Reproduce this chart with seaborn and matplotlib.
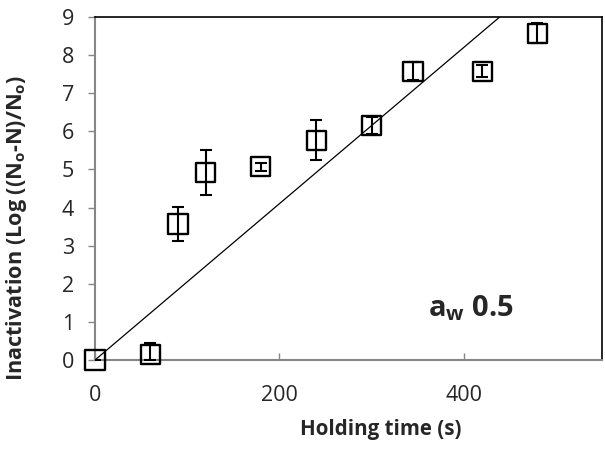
import numpy as np
import pandas as pd
import matplotlib
matplotlib.use("Agg")
import matplotlib.pyplot as plt
import seaborn as sns

# Data
time_s = [0, 60, 90, 120, 180, 240, 300, 345, 420, 480]
inactivation = [0.0, 0.15, 3.57, 4.92, 5.07, 5.77, 6.15, 7.58, 7.58, 8.57]
err_low = [0.0, 0.15, 0.45, 0.6, 0.1, 0.53, 0.22, 0.24, 0.16, 0.26]
err_high = [0.0, 0.30, 0.45, 0.6, 0.1, 0.53, 0.22, 0.24, 0.16, 0.26]
trend_x = [0, 439]
trend_y = [0, 9]
x_ticks = [0, 200, 400]
y_ticks = [0, 1, 2, 3, 4, 5, 6, 7, 8, 9]

sns.set_style("white")
plt.rcParams['font.family'] = ['Open Sans', 'DejaVu Sans']
plt.rcParams['mathtext.fontset'] = 'custom'
plt.rcParams['mathtext.default'] = 'regular'

df = pd.DataFrame({"time": time_s, "inact": inactivation})
tdf = pd.DataFrame({"x": trend_x, "y": trend_y})

fig = plt.figure(figsize=(6.05, 4.49), dpi=100)
ax = fig.add_axes([95/605, 1 - 360/449, (602-95)/605, (360-17)/449])

sns.lineplot(data=tdf, x="x", y="y", ax=ax, color="black", linewidth=0.9, zorder=2)
ax.errorbar(time_s, inactivation, yerr=[err_low, err_high], fmt='none',
            ecolor='black', elinewidth=1.5, capsize=4, capthick=1.5, zorder=3)
sns.scatterplot(data=df, x="time", y="inact", ax=ax, marker='s', s=190,
                facecolors='none', edgecolor='black', linewidth=1.7, zorder=4)
for coll in ax.collections:
    coll.set_clip_on(False)

ax.set_xlim(0, 550)
ax.set_ylim(0, 9)
ax.set_xticks(x_ticks)
ax.set_yticks(y_ticks)
ax.set_xlabel("")
ax.set_ylabel("")

grey = '#868686'
for side in ['left', 'bottom']:
    ax.spines[side].set_color(grey)
    ax.spines[side].set_linewidth(1.5)
for side in ['top', 'right']:
    ax.spines[side].set_color('black')
    ax.spines[side].set_linewidth(1.2)
    ax.spines[side].set_visible(True)

ax.tick_params(axis='y', direction='out', length=5, width=1, color=grey,
               labelsize=15.5, pad=10, left=True)
ax.tick_params(axis='x', direction='in', length=5, width=1, color=grey,
               labelsize=15.5, pad=18, bottom=True)

fig.text(381/605, 1 - 430/449, "Holding time (s)", ha='center', va='center',
         fontsize=14.8, fontweight='bold')
fig.text(17/605, 1 - 228/449, "Inactivation (Log ((N$_o$-N)/N$_o$)", ha='center',
         va='center', rotation=90, fontsize=15.6, fontweight='bold')
ax.text(0.657, 0.152, "a$_w$ 0.5", transform=ax.transAxes, ha='left', va='center',
        fontsize=21, fontweight='bold')

fig.savefig("out.png", dpi=100)
